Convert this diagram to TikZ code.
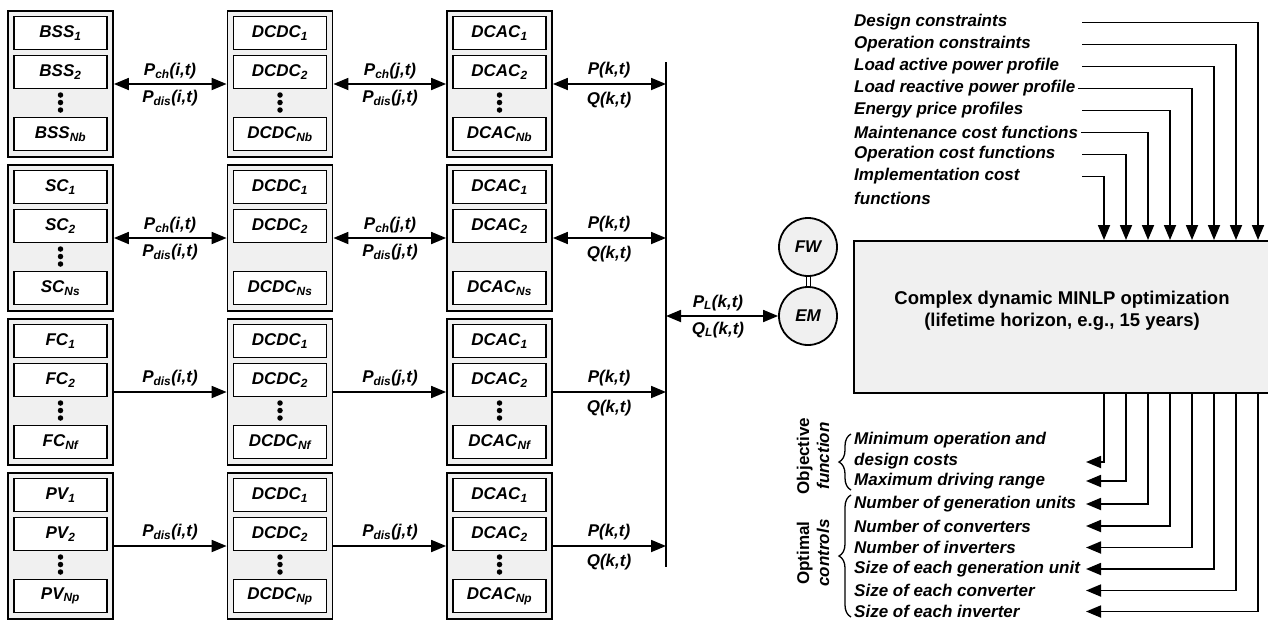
\documentclass[tikz,border=0pt]{standalone}
\usepackage{fontspec}
\setmainfont{Liberation Sans}
\usetikzlibrary{arrows.meta,decorations.pathreplacing}
\definecolor{boxgray}{HTML}{F0F0F0}
\begin{document}
\begin{tikzpicture}[x=1pt,y=-1pt,
  font=\fontsize{17}{20}\selectfont\bfseries\itshape,
  outerbox/.style={draw, line width=1.8pt, fill=boxgray, minimum width=105pt, minimum height=146pt, inner sep=0pt},
  innerbox/.style={draw, line width=1.8pt, fill=white, minimum width=93pt, minimum height=33pt, inner sep=0pt},
  vdot/.style={circle, fill=black, inner sep=0pt, minimum size=5.5pt},
  conn/.style={line width=1.8pt, -{Triangle[length=15pt,width=12pt]}},
  biconn/.style={line width=1.8pt, {Triangle[length=15pt,width=12pt]}-{Triangle[length=15pt,width=12pt]}},
  lbl/.style={inner sep=0pt},
  rlbl/.style={inner sep=0pt, anchor=west},
  bracestyle/.style={line width=1.3pt, decorate, decoration={brace, amplitude=12pt}},
]
\useasboundingbox (0,0) rectangle (1268,619);

% ---------- left converter columns ----------
\foreach \g/\ty/\nm/\sb in {1/11/BSS/Nb, 2/165/SC/Ns, 3/319/FC/Nf, 4/473/PV/Np} {
  \foreach \c/\cx/\lab in {a/60.5/\nm, b/280/DCDC, c/499.5/DCAC} {
    \node[outerbox] (g\g\c) at (\cx,\ty+73) {};
    \node[innerbox] (g\g\c1) at (\cx,\ty+22) {\lab\textsubscript{1}};
    \node[innerbox] (g\g\c2) at (\cx,\ty+61) {\lab\textsubscript{2}};
    \node[innerbox] (g\g\c3) at (\cx,\ty+123) {\lab\textsubscript{\sb}};
  }
}
\foreach \g/\c/\cx/\ty in {1/a/60.5/11, 1/b/280/11, 1/c/499.5/11,
                            2/a/60.5/165,
                            3/a/60.5/319, 3/b/280/319, 3/c/499.5/319,
                            4/a/60.5/473, 4/b/280/473, 4/c/499.5/473} {
  \foreach \k/\dy in {1/84, 2/91.5, 3/99}
    \node[vdot] (d\g\c\k) at (\cx,\ty+\dy) {};
}

% ---------- bus ----------
\coordinate (bustop) at (666,62);
\coordinate (busbot) at (666,567);
\draw[line width=2pt] (bustop) -- (busbot);
\coordinate (bus1) at (666,84);
\coordinate (bus2) at (666,238);
\coordinate (bus3) at (666,392);
\coordinate (bus4) at (666,546);

% ---------- connectors ----------
\draw[biconn] (g1a) -- (g1b);
\draw[biconn] (g1b) -- (g1c);
\draw[biconn] (g1c) -- (bus1);
\draw[biconn] (g2a) -- (g2b);
\draw[biconn] (g2b) -- (g2c);
\draw[biconn] (g2c) -- (bus2);
\draw[conn] (g3a) -- (g3b);
\draw[conn] (g3b) -- (g3c);
\draw[conn] (g3c) -- (bus3);
\draw[conn] (g4a) -- (g4b);
\draw[conn] (g4b) -- (g4c);
\draw[conn] (g4c) -- (bus4);

% ---------- connector labels ----------
\node[lbl] (l1a) at (170,71) {P\textsubscript{ch}(i,t)};
\node[lbl] (l1b) at (170,98) {P\textsubscript{dis}(i,t)};
\node[lbl] (l1c) at (390,71) {P\textsubscript{ch}(j,t)};
\node[lbl] (l1d) at (390,98) {P\textsubscript{dis}(j,t)};
\node[lbl] (l1e) at (609,70) {P(k,t)};
\node[lbl] (l1f) at (609,100) {Q(k,t)};
\node[lbl] (l2a) at (170,225) {P\textsubscript{ch}(i,t)};
\node[lbl] (l2b) at (170,252) {P\textsubscript{dis}(i,t)};
\node[lbl] (l2c) at (390,225) {P\textsubscript{ch}(j,t)};
\node[lbl] (l2d) at (390,252) {P\textsubscript{dis}(j,t)};
\node[lbl] (l2e) at (609,224) {P(k,t)};
\node[lbl] (l2f) at (609,254) {Q(k,t)};
\node[lbl] (l3a) at (170,378) {P\textsubscript{dis}(i,t)};
\node[lbl] (l3c) at (390,378) {P\textsubscript{dis}(j,t)};
\node[lbl] (l3e) at (609,378) {P(k,t)};
\node[lbl] (l3f) at (609,408) {Q(k,t)};
\node[lbl] (l4a) at (170,532) {P\textsubscript{dis}(i,t)};
\node[lbl] (l4c) at (390,532) {P\textsubscript{dis}(j,t)};
\node[lbl] (l4e) at (609,532) {P(k,t)};
\node[lbl] (l4f) at (609,562) {Q(k,t)};

% ---------- machine ----------
\node[circle, draw, line width=1.8pt, fill=boxgray, minimum size=58pt, inner sep=0pt] (FW) at (808,247) {FW};
\node[circle, draw, line width=1.8pt, fill=boxgray, minimum size=58pt, inner sep=0pt] (EM) at (808,316) {EM};
\draw[line width=1pt, double=white, double distance=3pt] (FW) -- (EM);
\coordinate (busL) at (666,316);
\draw[biconn] (busL) -- (EM);
\node[lbl] (lLa) at (718,303) {P\textsubscript{L}(k,t)};
\node[lbl] (lLb) at (718,330) {Q\textsubscript{L}(k,t)};

% ---------- optimisation box ----------
\node[draw, line width=1.8pt, fill=boxgray, minimum width=418pt, minimum height=152pt, inner sep=0pt,
      anchor=north west] (opt) at (853,240) {};
\node[align=center, inner sep=0pt, font=\fontsize{18.5}{22}\selectfont\bfseries] (opttxt) at (1062,311)
      {Complex dynamic MINLP optimization\\(lifetime horizon, e.g., 15 years)};

% ---------- inputs ----------
\foreach \i/\txt/\sx in {1/Design constraints/1082, 2/Operation constraints/1082,
    3/Load active power profile/1082, 4/Load reactive power profile/1078,
    5/Energy price profiles/1082, 6/Maintenance cost functions/1081,
    7/Operation cost functions/1082, 8/Implementation cost/1082} {
  \pgfmathsetmacro\yy{22.5+22*(\i-1)}
  \pgfmathsetmacro\xv{1258-22*(\i-1)}
  \node[rlbl] (in\i) at (854,\yy) {\txt};
  \coordinate (s\i) at (\sx,\yy);
  \coordinate (e\i) at (\xv,240);
  \draw[conn] (s\i) -| (e\i);
}
\node[rlbl] (in8b) at (854,198) {functions};

% ---------- outputs ----------
\foreach \i/\yy in {1/462, 2/481, 3/504, 4/526, 5/547.5, 6/569, 7/590.5, 8/611.5} {
  \pgfmathsetmacro\xv{1104+22*(\i-1)}
  \coordinate (ob\i) at (\xv,392);
  \coordinate (ot\i) at (1086,\yy);
  \draw[conn] (ob\i) |- (ot\i);
}
\node[rlbl] (out1a) at (854,440) {Minimum operation and};
\node[rlbl] (out1b) at (854,461.5) {design costs};
\node[rlbl] (out2) at (854,481) {Maximum driving range};
\node[rlbl] (out3) at (854,504) {Number of generation units};
\node[rlbl] (out4) at (854,526) {Number of converters};
\node[rlbl] (out5) at (854,547.5) {Number of inverters};
\node[rlbl] (out6) at (854,569) {Size of each generation unit};
\node[rlbl] (out7) at (854,590.5) {Size of each converter};
\node[rlbl] (out8) at (854,611.5) {Size of each inverter};

% ---------- braces ----------
\coordinate (b1s) at (851,490);
\coordinate (b1e) at (851,434);
\draw[bracestyle] (b1s) -- (b1e);
\coordinate (b2s) at (851,617);
\coordinate (b2e) at (851,495);
\draw[bracestyle] (b2s) -- (b2e);
\node[rotate=90, align=center, inner sep=0pt, font=\fontsize{17}{20}\selectfont\bfseries] (objl) at (813,456) {Objective\\\itshape function};
\node[rotate=90, align=center, inner sep=0pt, font=\fontsize{17}{20}\selectfont\bfseries] (optl) at (813,553) {Optimal\\\itshape controls};
\end{tikzpicture}
\end{document}
